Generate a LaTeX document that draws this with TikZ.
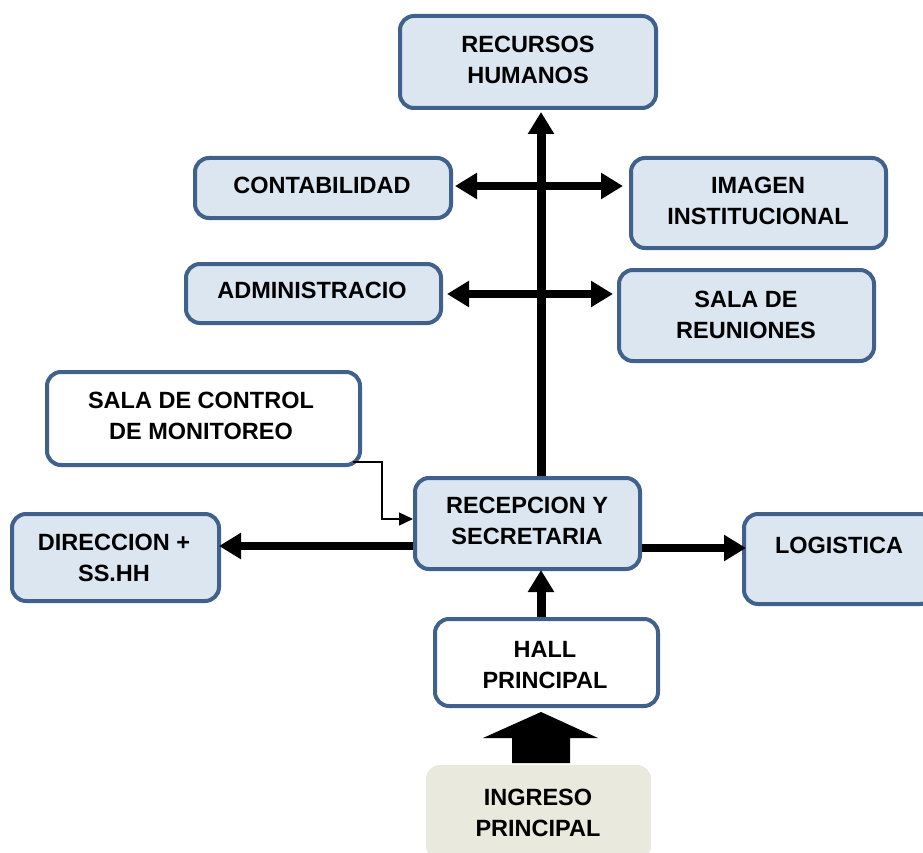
\documentclass[tikz,border=0pt]{standalone}
\usepackage{fontspec}
\setmainfont{Liberation Sans}
\usetikzlibrary{arrows.meta,calc}
\definecolor{bordc}{HTML}{3F618C}
\definecolor{fillc}{HTML}{DCE6F1}
\definecolor{ingc}{HTML}{E9E9DD}
\begin{document}
\begin{tikzpicture}[x=1pt,y=-1pt,
  box/.style={draw=bordc,line width=4pt,rounded corners=14pt,fill=fillc,inner sep=0pt,align=center,
    font=\fontsize{23.5}{31}\selectfont\bfseries},
  wbox/.style={box,fill=white},
  txt/.style={inner sep=0pt,align=center,font=\fontsize{23.5}{31}\selectfont\bfseries},
  thick arrow/.style={line width=8pt,-{Triangle[length=22pt,width=25pt]}},
  dbl arrow/.style={line width=8pt,{Triangle[length=22pt,width=25pt]}-{Triangle[length=22pt,width=25pt]}},
  thin arrow/.style={line width=1.3pt,-{Triangle[length=14pt,width=13pt]}}]
\useasboundingbox (0,0) rectangle (923,853);
% boxes
\node[box,minimum width=256pt,minimum height=92pt] (rh) at (528,62) {};
\node[txt] (rht) at (528,59.5) {RECURSOS\\HUMANOS};
\node[box,minimum width=256pt,minimum height=60pt] (cont) at (323,188) {};
\node[txt] (contt) at (322,185) {CONTABILIDAD};
\node[box,minimum width=255pt,minimum height=90pt] (img) at (758.5,203) {};
\node[txt] (imgt) at (758,201) {IMAGEN\\INSTITUCIONAL};
\node[box,minimum width=255pt,minimum height=59pt] (adm) at (313.5,293.5) {};
\node[txt] (admt) at (312,290) {ADMINISTRACIO};
\node[box,minimum width=255pt,minimum height=91pt] (sala) at (746.5,315.5) {};
\node[txt] (salat) at (746,315) {SALA DE\\REUNIONES};
\node[wbox,minimum width=313pt,minimum height=93pt] (ctrl) at (203.5,418.5) {};
\node[txt] (ctrlt) at (201,415.5) {SALA DE CONTROL\\DE MONITOREO};
\node[box,minimum width=225pt,minimum height=91pt] (rec) at (527.5,523.5) {};
\node[txt] (rect) at (527,520.5) {RECEPCION Y\\SECRETARIA};
\node[box,minimum width=207pt,minimum height=87pt] (dir) at (115.5,557.5) {};
\node[txt] (dirt) at (114,558) {DIRECCION +\\SS.HH};
\node[box,minimum width=190pt,minimum height=90pt] (log) at (839,559) {};
\node[txt] (logt) at (839,545) {LOGISTICA};
\node[wbox,minimum width=223pt,minimum height=87pt] (hall) at (546.5,662.5) {};
\node[txt] (hallt) at (545,665) {HALL\\PRINCIPAL};
\node[box,draw=none,fill=ingc,minimum width=225pt,minimum height=95pt] (ing) at (538.5,812.5) {};
\node[txt] (ingt) at (538,812.5) {INGRESO\\PRINCIPAL};
% connectors
\coordinate (vx) at (541,0);
\draw[thick arrow,line width=9pt] (rec.north -| vx) -- ($(rh.south -| vx)+(0,2)$);
\draw[thick arrow,line width=9pt] (hall.north -| vx) -- ($(rec.south -| vx)+(0,-1)$);
\coordinate (ya) at (0,186);
\coordinate (yb) at (0,294);
\draw[dbl arrow] ($(cont.east |- ya)+(2,0)$) -- ($(img.west |- ya)+(-6,0)$);
\draw[dbl arrow] ($(adm.east |- yb)+(4,0)$) -- ($(sala.west |- yb)+(-4,0)$);
\coordinate (yl) at (0,546);
\coordinate (yr) at (0,548);
\draw[thick arrow] (rec.west |- yl) -- ($(dir.east |- yl)+(-2,0)$);
\draw[thick arrow] (rec.east |- yr) -- ($(log.west |- yr)+(4,0)$);
\coordinate (c1) at (353,462);
\coordinate (c2) at (382,462);
\coordinate (c3) at (382,519);
\draw[thin arrow] (c1) -- (c2) -- (c3) -- (rec.west |- c3);
% block arrow from ingreso to hall
\coordinate (bt) at ($(hall.south -| vx)+(0,4)$);
\fill[black] ($(ing.north -| vx)+(-29,0)$) -- ($(ing.north -| vx)+(-29,-25)$) -- ($(ing.north -| vx)+(-58,-25)$)
  -- (bt) -- ($(ing.north -| vx)+(57,-25)$) -- ($(ing.north -| vx)+(29,-25)$) -- ($(ing.north -| vx)+(29,0)$) -- cycle;
\end{tikzpicture}
\end{document}
